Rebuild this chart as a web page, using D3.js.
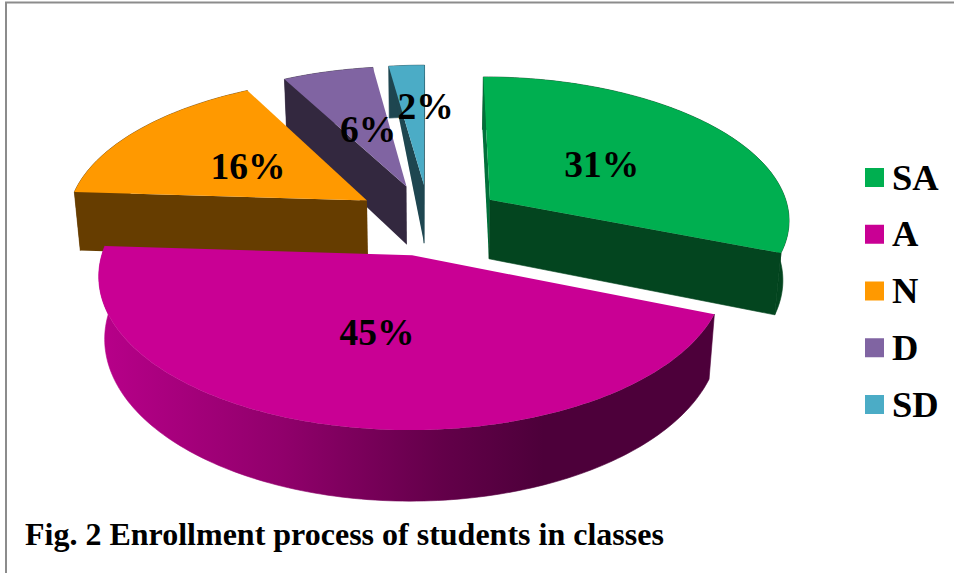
<!DOCTYPE html>
<html><head><meta charset="utf-8">
<script src="https://cdnjs.cloudflare.com/ajax/libs/d3/7.8.5/d3.min.js"></script>
<style>html,body{margin:0;padding:0;background:#fff}svg{display:block}text{font-family:"Liberation Serif",serif;font-weight:bold;fill:#000}</style>
</head><body><svg id="c" width="954" height="573"></svg>
<script>
const categories = ["SA","A","N","D","SD"];
const values = [31,45,16.2,5.6,2.2];
const topColors = ["#00AF50","#C90094","#FF9900","#8064A2","#4BACC6"];
const wallColors = ["#03451F","#4D003A","#663D00","#33283F","#1E4650"];
const title = "Fig. 2 Enrollment process of students in classes";

const W=954,H=573, cx=429, cy=219.5, R=301, explode=75, k=0.475, d=2400, depth=60, conv=0.7;
const svg=d3.select("#c");
svg.append("rect").attr("width",W).attr("height",H).attr("fill","#fff");
svg.append("path").attr("d","M6,573V2.5H954").attr("fill","none").attr("stroke","#8c8c8c").attr("stroke-width",2);

const defs=svg.append("defs");
const grad=defs.append("linearGradient").attr("id","wallA").attr("gradientUnits","userSpaceOnUse")
  .attr("x1",97).attr("x2",717).attr("y1",0).attr("y2",0);
[[0,"#B8008A"],[0.3,"#90006B"],[0.55,"#64004A"],[0.72,"#4D003A"],[1,"#4D003A"]]
  .forEach(s=>grad.append("stop").attr("offset",s[0]).attr("stop-color",s[1]));

function project(X,Yt,z){
  const s=d/(d-Yt+z*conv), s0=d/(d-Yt);
  return [cx+X*s, cy+k*Yt*s0+z*s0];
}
const pie=d3.pie().sort(null).value(v=>v).startAngle(0).endAngle(2*Math.PI);
const total=d3.sum(values);
const arcs=pie(values).map((a,i)=>{
  const mid=(a.startAngle+a.endAngle)/2;
  return Object.assign(a,{i,mid,ox:explode*Math.sin(mid),oy:-explode*Math.cos(mid)});
});
function pt(a,th,r,z){
  const X=a.ox+r*Math.sin(th), Yt=a.oy-r*Math.cos(th);
  return project(X,Yt,z);
}
const line=d3.line().curve(d3.curveLinear);
function arcPts(a,z,rev){
  const n=Math.max(4,Math.ceil((a.endAngle-a.startAngle)/0.02));
  const pts=d3.range(n+1).map(j=>pt(a,a.startAngle+(a.endAngle-a.startAngle)*j/n,R,z));
  return rev?pts.reverse():pts;
}
const g=svg.append("g");
function drawSlice(a){
  const s=g.append("g").attr("class","slice-"+categories[a.i]);
  const wall=a.i===1?"url(#wallA)":wallColors[a.i];
  s.append("path").attr("d",line(arcPts(a,0).concat(arcPts(a,depth,true)))+"Z").attr("fill",wall)
    .attr("stroke",wall).attr("stroke-width",0.6);
  const st=[pt(a,a.startAngle,0,0),pt(a,a.startAngle,R,0),pt(a,a.startAngle,R,depth),pt(a,a.startAngle,0,depth)];
  const en=[pt(a,a.endAngle,0,0),pt(a,a.endAngle,R,0),pt(a,a.endAngle,R,depth),pt(a,a.endAngle,0,depth)];
  if(a.i===4) st.splice(2,1);
  if(d3.polygonArea(st)>0) s.append("path").attr("d",line(st)+"Z").attr("fill",a.i===0?"#00703A":wall);
  if(d3.polygonArea(en)<0) s.append("path").attr("d",line(en)+"Z").attr("fill",wall)
    .attr("stroke",wall).attr("stroke-width",0.6);
  s.append("path").attr("d",line([pt(a,0,0,0)].concat(arcPts(a,0)))+"Z").attr("fill",topColors[a.i]);
}
[3,4,2,0,1].forEach(i=>drawSlice(arcs[i]));

const pct=d3.format(".0%");
const labelR=[150,150,150,150,190], labelDx=[-4,2,-1,3,13], labelDy=[2,-2,2,3,0];
arcs.forEach(a=>{
  const p=pt(a,a.mid,labelR[a.i],0);
  svg.append("text").attr("x",p[0]+labelDx[a.i]).attr("y",p[1]+labelDy[a.i]+12.5)
    .attr("text-anchor","middle").attr("font-size",37.5).text(pct(a.value/total));
});

const legendY=d3.scalePoint().domain(categories).range([168,395]);
categories.forEach((c,i)=>{
  svg.append("rect").attr("x",865).attr("y",legendY(c)).attr("width",19).attr("height",19).attr("fill",topColors[i]);
  svg.append("text").attr("x",892).attr("y",legendY(c)+21.5).attr("font-size",36.5).text(c);
});
svg.append("text").attr("x",25).attr("y",545).attr("font-size",32).text(title);
</script></body></html>
